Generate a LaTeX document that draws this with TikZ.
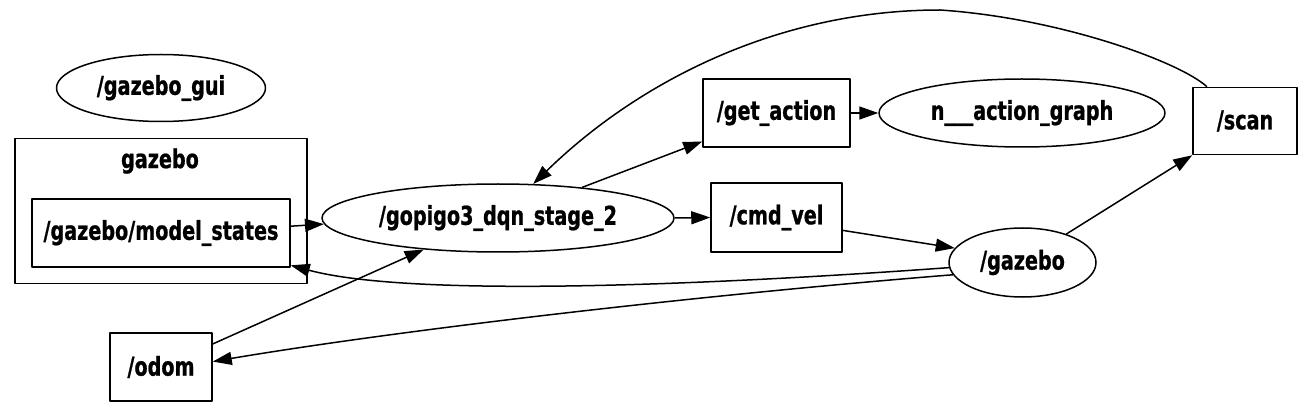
\documentclass[tikz,border=0pt]{standalone}
\usepackage{fontspec}
\setmainfont{DejaVu Sans Condensed}[FakeStretch=0.82,BoldFeatures={FakeBold=0.8}]
\usepackage{tikz}
\usetikzlibrary{arrows.meta,shapes.geometric}

\begin{document}
\begin{tikzpicture}[x=1pt,y=-1pt,>={Triangle[length=19pt,width=13pt]},line width=1.5pt,line join=round,
  font=\bfseries\fontsize{26}{30}\selectfont,
  topic/.style={draw,rectangle,inner sep=0pt},
  rosnode/.style={draw,ellipse,inner sep=0pt}]
  \useasboundingbox (0,0) rectangle (1315,414);
  \node[rosnode,minimum width=209,minimum height=67] (gui) at (161,88){/gazebo\_gui};
  \node[draw,rectangle,minimum width=292,minimum height=145] (clus) at (161,211){};
  \node (cluslbl) at (160,161){gazebo};
  \node[topic,minimum width=258,minimum height=68] (ms) at (161,233){/gazebo/model\_states};
  \node[rosnode,minimum width=352,minimum height=68] (dqn) at (498,218){/gopigo3\_dqn\_stage\_2};
  \node[topic,minimum width=147,minimum height=68] (getact) at (776.5,113){/get\_action};
  \node[rosnode,minimum width=286,minimum height=68] (actgraph) at (1022,113){n\_\_\_action\_graph};
  \node[topic,minimum width=104,minimum height=67] (scan) at (1245,121){/scan};
  \node[topic,minimum width=131,minimum height=69] (cmdvel) at (776.5,217.5){/cmd\_vel};
  \node[rosnode,minimum width=147,minimum height=69] (gz) at (1022.5,262.5){/gazebo};
  \node[topic,minimum width=102,minimum height=68] (odom) at (161,367){/odom};
  \draw[->] (ms.3) -- (dqn.182);
  \draw[->] (dqn.20) -- (getact.201);
  \draw[->] (scan.138) .. controls (1180,62) and (1060,18) .. (940,10)
    .. controls (780,10) and (640,80) .. (dqn.44);
  \draw[->] (dqn.east) -- (cmdvel.west);
  \draw[->] (getact.east) -- (actgraph.west);
  \draw[->] (cmdvel.-11) -- (gz.168);
  \draw[->] (gz.33) -- (scan.south west);
  \draw[->] (gz.184) .. controls (750,282) and (420,300) .. (ms.-14);
  \draw[->] (gz.190) .. controls (700,295) and (400,330) .. (odom.6);
  \draw[->] (odom.24) -- (dqn.203);
\end{tikzpicture}
\end{document}
